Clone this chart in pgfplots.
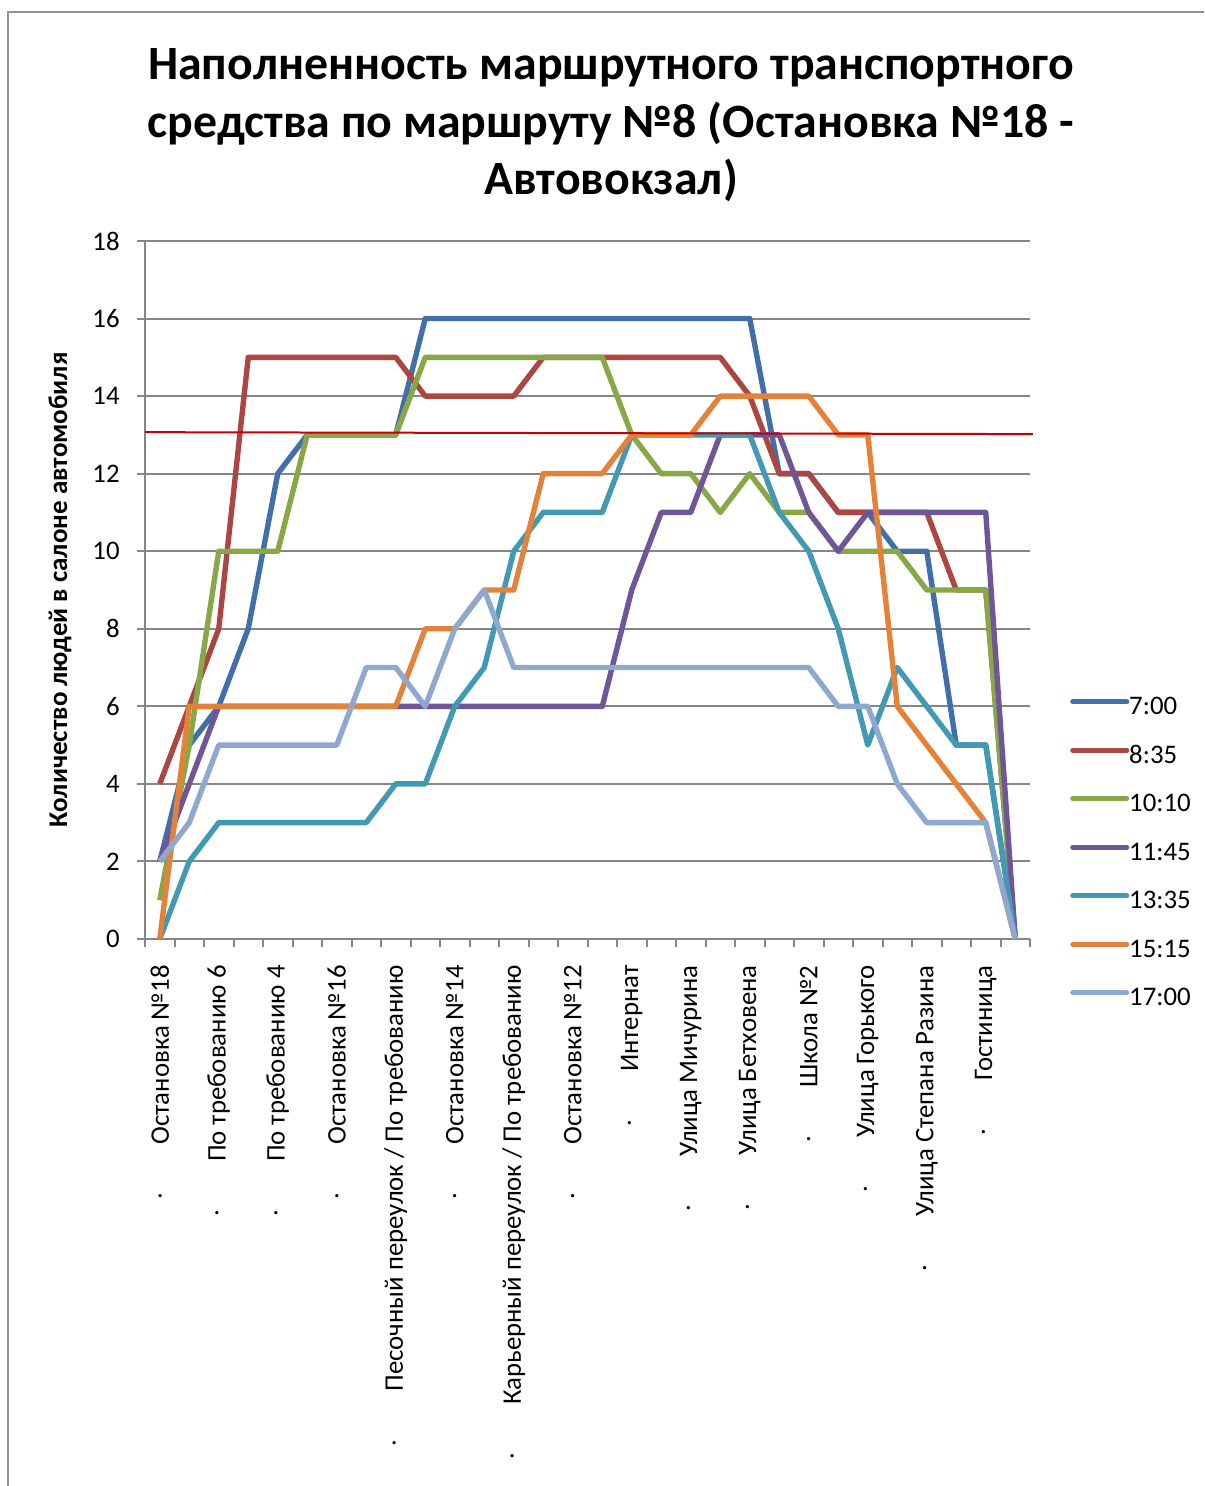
\documentclass[border=0pt]{standalone}
\usepackage{fontspec}
\setmainfont{Carlito}
\usepackage{pgfplots}
\pgfplotsset{compat=1.18}
\definecolor{c1}{HTML}{406FAA}
\definecolor{c2}{HTML}{AC4643}
\definecolor{c3}{HTML}{88A848}
\definecolor{c4}{HTML}{705698}
\definecolor{c5}{HTML}{4199B4}
\definecolor{c6}{HTML}{E2823B}
\definecolor{c7}{HTML}{8FA8CF}
\definecolor{gridgray}{HTML}{868686}
\definecolor{limitred}{HTML}{C80000}
\newcommand{\dt}{\raisebox{0.27em}{.}\hspace{24pt}}
\begin{document}
\begin{tikzpicture}[x=1pt,y=1pt]
\useasboundingbox (0,0) rectangle (602,743);
\draw[color=gridgray!90, line width=1pt] (4,0) -- (4,737) -- (602,737);
\tikzset{ttl/.style={font=\fontsize{23.9pt}{28pt}\selectfont\bfseries, anchor=base, inner sep=0pt}}
\node[ttl] at (305.5,703) {Наполненность маршрутного транспортного};
\node[ttl] at (305.5,674.25) {средства по маршруту №8 (Остановка №18 -};
\node[ttl] at (305.5,645.5) {Автовокзал)};
\begin{axis}[
  at={(72.5pt,273.5pt)}, anchor=south west,
  scale only axis, width=442.5pt, height=349pt,
  clip=false,
  xmin=-0.5, xmax=29.5, ymin=0, ymax=18,
  axis line style={draw=gridgray, line width=1pt},
  axis x line*=bottom, axis y line*=left,
  ytick={0,2,...,18},
  minor ytick={0,2,...,18},
  ymajorgrids, grid style={draw=gridgray, line width=1pt},
  tick align=outside, major tick length=0pt, minor tick length=4pt,
  tick style={draw=gridgray, line width=1pt},
  /pgf/number format/assume math mode=true,
  yticklabel style={font=\fontsize{13.4pt}{15pt}\selectfont, inner sep=0pt, xshift=-12.5pt},
  xtick={0,2,...,28},
  minor xtick={-0.5,0.5,...,29.5},
  xticklabel style={rotate=90, anchor=east, inner sep=0pt, font=\fontsize{13.4pt}{15pt}\selectfont},
  xticklabel shift=13pt,
  xticklabels={
    {\dt Остановка №18},
    {\dt По требованию 6},
    {\dt По требованию 4},
    {\dt Остановка №16},
    {\dt Песочный переулок / По требованию},
    {\dt Остановка №14},
    {\dt Карьерный переулок / По требованию},
    {\dt Остановка №12},
    {\dt Интернат},
    {\dt Улица Мичурина},
    {\dt Улица Бетховена},
    {\dt Школа №2},
    {\dt Улица Горького},
    {\dt Улица Степана Разина},
    {\dt Гостиница}},
  ylabel={Количество людей в салоне автомобиля},
  every axis y label/.style={at={(axis description cs:-0.096,0.5)}, rotate=90, anchor=center, font=\fontsize{13.5pt}{15pt}\selectfont\bfseries},
  legend style={at={(1.045,0.349)}, anchor=north west, draw=none, fill=none, inner sep=0pt,
    row sep=11.75pt, font=\fontsize{13.4pt}{15pt}\selectfont,
    nodes={inner sep=0pt, text height=9.5pt, text depth=3pt}},
  legend cell align=left,
  legend image code/.code={\draw[#1, line width=2.5pt, line cap=round] (0pt,3.2pt) -- (27pt,3.2pt);},
  every axis plot/.append style={line width=2.7pt, line join=round, no markers},
]
\addplot[c1] coordinates {(0,2)(1,5)(2,6)(3,8)(4,12)(5,13)(6,13)(7,13)(8,13)(9,16)(10,16)(11,16)(12,16)(13,16)(14,16)(15,16)(16,16)(17,16)(18,16)(19,16)(20,16)(21,12)(22,12)(23,11)(24,11)(25,10)(26,10)(27,5)(28,5)(29,0)};
\addplot[c2] coordinates {(0,4)(1,6)(2,8)(3,15)(4,15)(5,15)(6,15)(7,15)(8,15)(9,14)(10,14)(11,14)(12,14)(13,15)(14,15)(15,15)(16,15)(17,15)(18,15)(19,15)(20,14)(21,12)(22,12)(23,11)(24,11)(25,11)(26,11)(27,9)(28,9)(29,0)};
\addplot[c3] coordinates {(0,1)(1,5)(2,10)(3,10)(4,10)(5,13)(6,13)(7,13)(8,13)(9,15)(10,15)(11,15)(12,15)(13,15)(14,15)(15,15)(16,13)(17,12)(18,12)(19,11)(20,12)(21,11)(22,11)(23,10)(24,10)(25,10)(26,9)(27,9)(28,9)(29,0)};
\addplot[c4] coordinates {(0,2)(1,4)(2,6)(3,6)(4,6)(5,6)(6,6)(7,6)(8,6)(9,6)(10,6)(11,6)(12,6)(13,6)(14,6)(15,6)(16,9)(17,11)(18,11)(19,13)(20,13)(21,13)(22,11)(23,10)(24,11)(25,11)(26,11)(27,11)(28,11)(29,0)};
\addplot[c5] coordinates {(0,0)(1,2)(2,3)(3,3)(4,3)(5,3)(6,3)(7,3)(8,4)(9,4)(10,6)(11,7)(12,10)(13,11)(14,11)(15,11)(16,13)(17,13)(18,13)(19,13)(20,13)(21,11)(22,10)(23,8)(24,5)(25,7)(26,6)(27,5)(28,5)(29,0)};
\addplot[c6] coordinates {(0,0)(1,6)(2,6)(3,6)(4,6)(5,6)(6,6)(7,6)(8,6)(9,8)(10,8)(11,9)(12,9)(13,12)(14,12)(15,12)(16,13)(17,13)(18,13)(19,14)(20,14)(21,14)(22,14)(23,13)(24,13)(25,6)(26,5)(27,4)(28,3)(29,0)};
\addplot[c7] coordinates {(0,2)(1,3)(2,5)(3,5)(4,5)(5,5)(6,5)(7,7)(8,7)(9,6)(10,8)(11,9)(12,7)(13,7)(14,7)(15,7)(16,7)(17,7)(18,7)(19,7)(20,7)(21,7)(22,7)(23,6)(24,6)(25,4)(26,3)(27,3)(28,3)(29,0)};
\addplot[forget plot, limitred, line width=1pt] coordinates {(-0.5,13.07)(29.6,13.02)};
\legend{7:00,8:35,10:10,11:45,13:35,15:15,17:00}
\end{axis}
\end{tikzpicture}
\end{document}
